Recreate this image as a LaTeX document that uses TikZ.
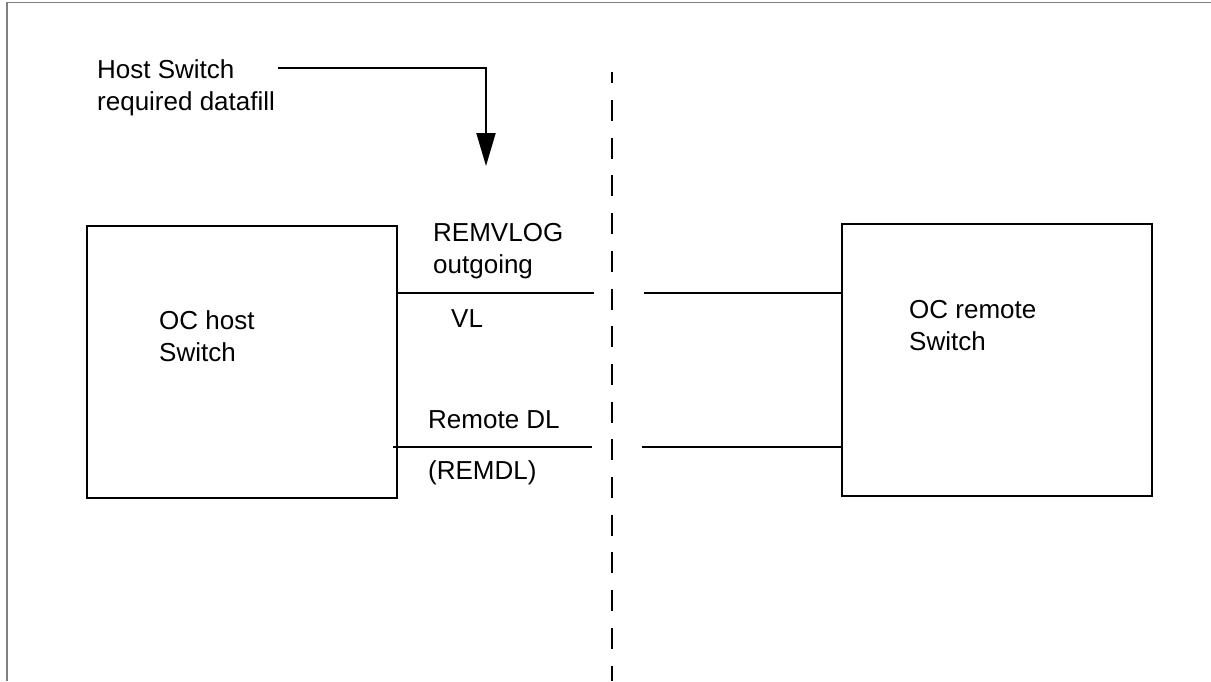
\documentclass[tikz,border=0pt]{standalone}
\usepackage{fontspec}
\setmainfont{Liberation Sans}
\usetikzlibrary{arrows.meta}
\begin{document}
\begin{tikzpicture}[x=1pt,y=-1pt,
  lbl/.style={inner sep=0pt, anchor=base west, align=left, font=\fontsize{26}{32}\selectfont},
  swbox/.style={draw, line width=2pt, inner sep=0pt, minimum width=310pt, minimum height=272pt},
  wire/.style={line width=2pt},
  frame/.style={draw=gray, line width=1.6pt},
  divider/.style={line width=2pt, dash pattern=on 21pt off 16.7pt, dash phase=9.7pt},
  pointer/.style={line width=2pt, -{Triangle[length=33pt, width=19pt]}}]
\useasboundingbox (0,0) rectangle (1211,681);
% frame
\draw[frame] (7,681) -- (7,2.5) -- (1211,2.5);
% boxes
\node[swbox] (host) at (241.5,362) {};
\node[swbox] (remote) at (997,360) {};
% labels (base = baseline of last line)
\node[lbl] (hostlbl) at (159,361) {OC host\\Switch};
\node[lbl] (remlbl) at (909,350) {OC remote\\Switch};
\node[lbl] (req) at (97,110) {Host Switch\\required datafill};
\node[lbl] (remvlog) at (433,273) {REMVLOG\\outgoing};
\node[lbl] (vl) at (451,327) {VL};
\node[lbl] (rdl) at (428,428) {Remote DL};
\node[lbl] (remdl) at (428,479) {(REMDL)};
% divider
\coordinate (dtop) at (612,72);
\coordinate (dbot) at (612,681);
\draw[divider] (dtop) -- (dbot);
% connectors
\coordinate (a1) at (594,293);
\coordinate (a2) at (644,293);
\coordinate (b0) at (393,447);
\coordinate (b1) at (592,447);
\coordinate (b2) at (642,447);
\draw[wire] (host.east |- a1) -- (a1);
\draw[wire] (a2) -- (remote.west |- a2);
\draw[wire] (b0) -- (b1);
\draw[wire] (b2) -- (remote.west |- b2);
% pointer
\coordinate (pstart) at (278,68);
\coordinate (pcorner) at (486,68);
\coordinate (ptip) at (486,166);
\draw[pointer] (pstart) -- (pcorner) -- (ptip);
\end{tikzpicture}
\end{document}
